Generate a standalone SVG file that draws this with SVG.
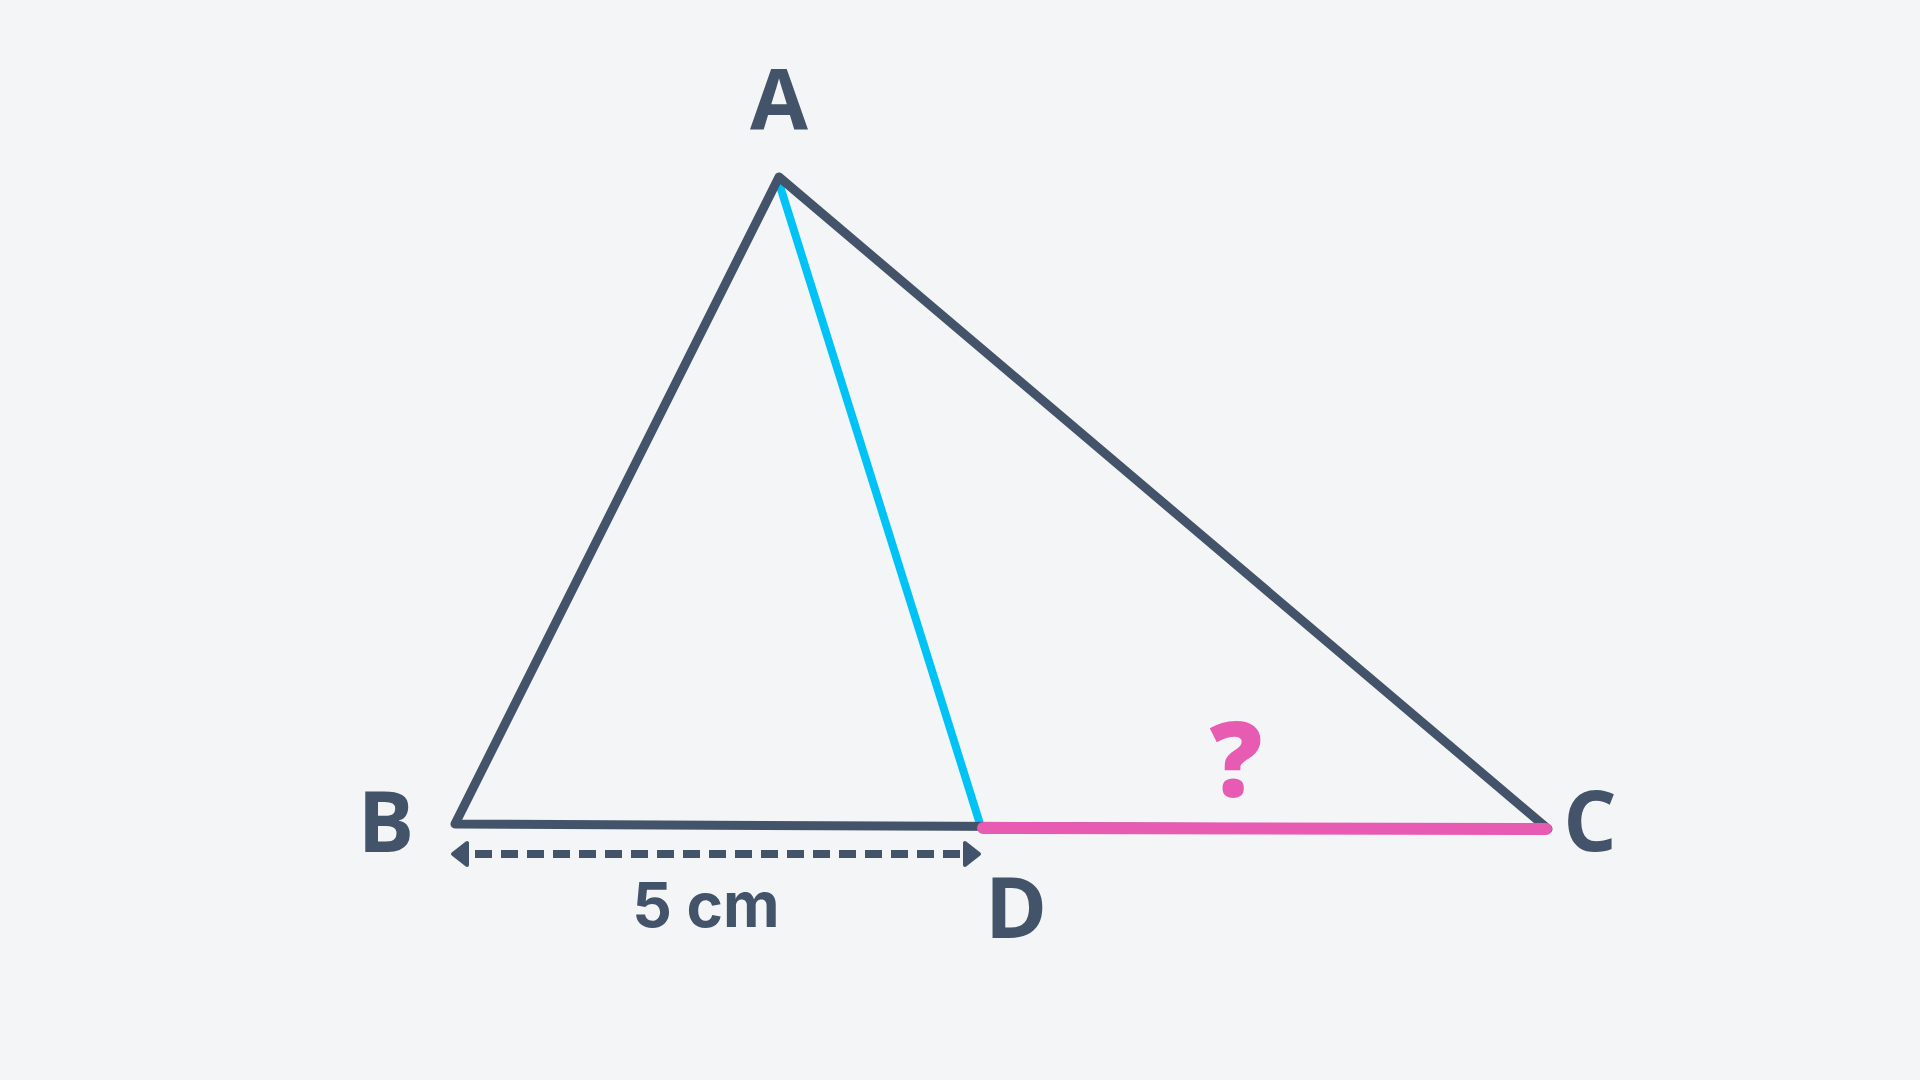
<svg xmlns="http://www.w3.org/2000/svg" width="1920" height="1080" viewBox="0 0 1920 1080">
<style>
.lbl{font-family:"Open Sans","Liberation Sans",sans-serif;font-weight:700;fill:#435369;text-anchor:middle}
.dim{font-family:Inter,Roboto,"Liberation Sans",sans-serif;font-weight:700;fill:#435369;text-anchor:middle}
.edge{fill:none;stroke:#435369;stroke-width:9;stroke-linecap:round;stroke-linejoin:round}
.head{fill:#435369;stroke:#435369;stroke-width:4;stroke-linejoin:round}
</style>
<rect width="1920" height="1080" fill="#f3f5f7"/>
<g id="connectors">
<line id="AD" x1="780" y1="186" x2="980" y2="824" stroke="#00c3f5" stroke-width="8" stroke-linecap="round"/>
<polygon id="ABC" class="edge" points="779,177 455,824 1548,829"/>
<line id="DC" x1="983" y1="828" x2="1546" y2="829" stroke="#e85bb3" stroke-width="12" stroke-linecap="round"/>
<g id="dimension">
<line x1="470" y1="854" x2="962" y2="854" stroke="#435369" stroke-width="8" stroke-dasharray="17 9" stroke-dashoffset="-5"/>
<path class="head" d="M453,854 L467,843 L467,865 Z"/>
<path class="head" d="M979,854 L965,843 L965,865 Z"/>
</g>
</g>
<g id="node-A"><text class="lbl" x="779" y="129" font-size="84">A</text></g>
<g id="node-B"><text class="lbl" x="386" y="852" font-size="84">B</text></g>
<g id="node-C"><text class="lbl" x="1590" y="851" font-size="84">C</text></g>
<g id="node-D"><text class="lbl" x="1016" y="938" font-size="84">D</text></g>
<g id="label-5cm"><text class="dim" x="706" y="927" font-size="62">5 cm</text></g>
<g id="label-q"><text class="lbl" x="1236" y="797" font-size="104" style="fill:#e85bb3;font-weight:800">?</text></g>
</svg>
